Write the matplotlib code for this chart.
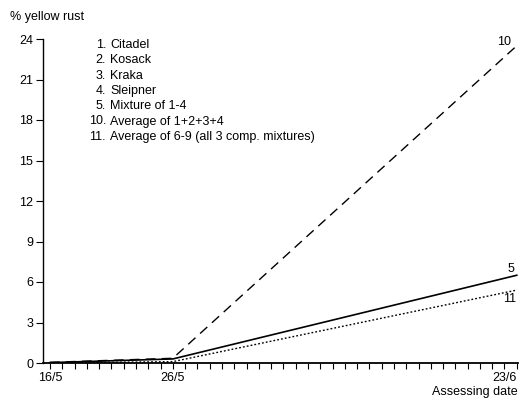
import matplotlib
matplotlib.use("Agg")
import matplotlib.pyplot as plt
import numpy as np

plt.rcParams['font.family'] = ['Liberation Sans', 'DejaVu Sans']

# Days after 16/5
days = [0, 10, 38]
date_labels = ["16/5", "26/5", "23/6"]
date_pos = [0, 10, 38]

avg_1234 = [0.05, 0.35, 23.5]     # 10
mixture_14 = [0.03, 0.3, 6.5]     # 5
avg_69 = [0.0, 0.1, 5.4]          # 11

legend_nums = ["1.", "2.", "3.", "4.", "5.", "10.", "11."]
legend_names = ["Citadel", "Kosack", "Kraka", "Sleipner", "Mixture of 1-4",
                "Average of 1+2+3+4", "Average of 6-9 (all 3 comp. mixtures)"]

yticks = [0, 3, 6, 9, 12, 15, 18, 21, 24]

FS = 9

fig = plt.figure(figsize=(5.26, 4.01), dpi=100)
ax = fig.add_axes([43/526, 1-363/401, (518-43)/526, (363-39)/401])

ax.plot(days, avg_1234, color='black', lw=1.0, dashes=(7, 4.5))
ax.plot(days, mixture_14, color='black', lw=1.2)
ax.plot(days, avg_69, color='black', lw=1.0, dashes=(1.3, 1.5))

ax.set_xlim(-0.57, 38.1)
ax.set_ylim(0, 24)
for s in ['top', 'right']:
    ax.spines[s].set_visible(False)
ax.spines['left'].set_linewidth(1.0)
ax.spines['bottom'].set_linewidth(1.3)

ax.set_yticks(yticks)
ax.set_yticklabels([str(v) for v in yticks], fontsize=FS)
ax.tick_params(axis='y', direction='out', length=5, width=0.8, pad=2)

ax.set_xticks(np.arange(0, 39))
ax.set_xticklabels(["" for _ in range(39)])
ax.tick_params(axis='x', direction='out', length=4, width=0.8)
for p, l in zip(date_pos, date_labels):
    ha = 'right' if p == 38 else 'center'
    ax.text(p, -1.1, l, fontsize=FS, ha=ha, va='center')

ax.text(38.1, -2.15, "Assessing date", fontsize=FS, ha='right', va='center')
fig.text(10/526, 1-17/401, "% yellow rust", fontsize=FS, ha='left', va='center')

# Legend-like key
for i, (n, nm) in enumerate(zip(legend_nums, legend_names)):
    y = 1 - (45 + i*15.3)/401
    fig.text(106/526, y, n, fontsize=FS, ha='right', va='center')
    fig.text(110/526, y, nm, fontsize=FS, ha='left', va='center')

# Line end labels
ax.text(37.0, 23.8, "10", fontsize=FS, ha='center', va='center')
ax.text(37.5, 7.0, "5", fontsize=FS, ha='center', va='center')
ax.text(37.4, 4.74, "11", fontsize=FS, ha='center', va='center')

fig.savefig("out.png", dpi=100)
